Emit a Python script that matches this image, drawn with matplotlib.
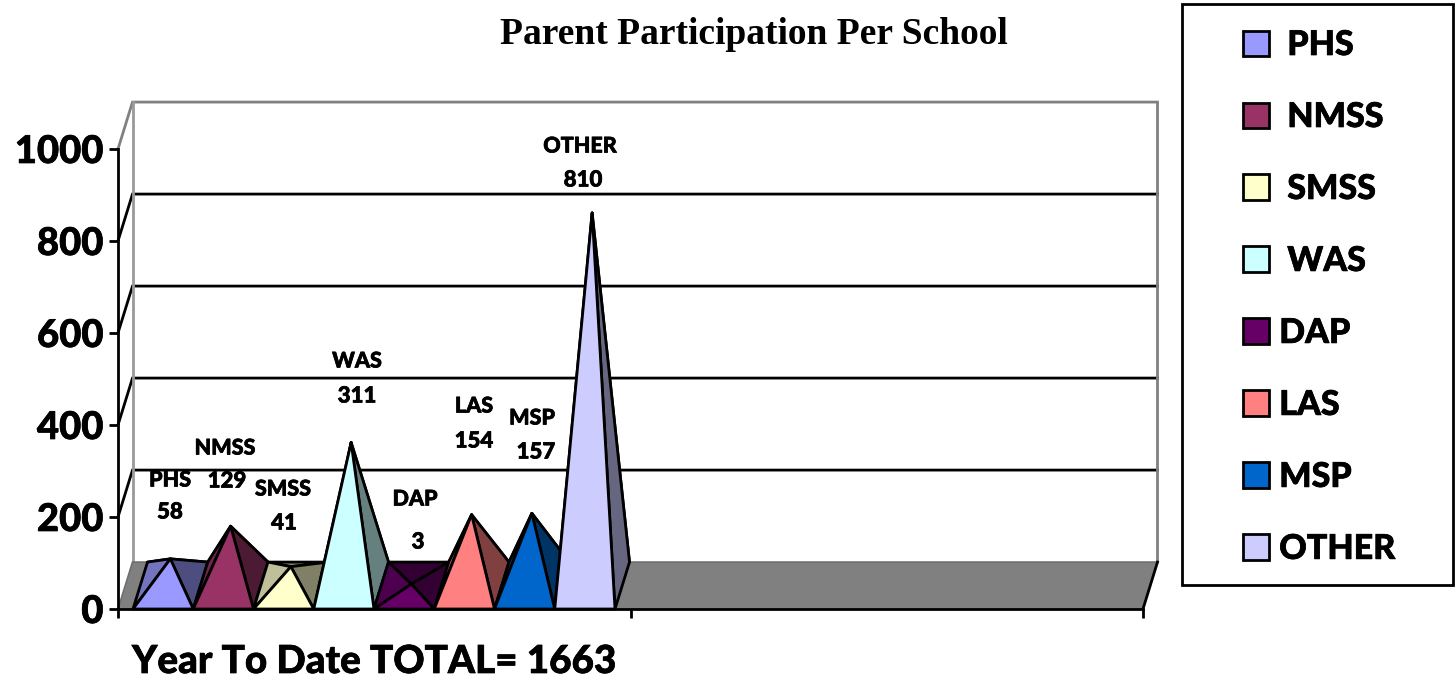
import matplotlib
matplotlib.use("Agg")
import matplotlib.pyplot as plt
import matplotlib.patheffects as pe
from matplotlib.patches import Polygon, Patch, Rectangle

# ---- data ----
schools = ["PHS", "NMSS", "SMSS", "WAS", "DAP", "LAS", "MSP", "OTHER"]
participation = [58, 129, 41, 311, 3, 154, 157, 810]
colors = ["#9999FF", "#993366", "#FFFFCC", "#CCFFFF", "#660066", "#FF8080", "#0066CC", "#CCCCFF"]
legend_labels = [" PHS", " NMSS", " SMSS", " WAS", "DAP", "LAS", "MSP", "OTHER"]
y_ticks = [0, 200, 400, 600, 800, 1000]
total_label = "Year To Date TOTAL= 1663"
title = "Parent Participation Per School"

# label centres in pixels (name x, name y, value x, value y)
label_px = [(170, 480, 170, 512), (225, 448, 227, 481), (283, 489, 284, 523), (357, 361, 357, 396),
            (415, 499, 418, 542), (474, 406, 474, 441), (532, 418, 536, 452), (580, 146, 583, 180)]

W, H = 1455, 679
FONT = "Lato"
WEIGHT = 900
plt.rcParams["font.family"] = [FONT, "DejaVu Sans"]
HEAVY = [pe.withStroke(linewidth=0.5, foreground="black")]

fig = plt.figure(figsize=(W / 100, H / 100), dpi=100)
L, R, T, B = 118, 1143, 149, 609
ax = fig.add_axes([L / W, 1 - B / H, (R - L) / W, (B - T) / H])
ax.set_xlim(0, 2)
ax.set_ylim(0, 1000)

# depth projection, in data units
DX = 14.5 / ((R - L) / 2)
DY = 102.0
SW = 60.25 / ((R - L) / 2)
X0 = 15.0 / ((R - L) / 2)
LW = 2.0
GRAY = "#808080"


def p(x, y, d=0.0):
    return (x + d * DX, y + d * DY)


def shade(hexcol, f):
    r, g, b = matplotlib.colors.to_rgb(hexcol)
    return (r * f, g * f, b * f)


# back wall grid
for v in y_ticks[1:-1]:
    ax.plot(*zip(p(0, v), p(0, v, 1), p(2, v, 1)), color="black", lw=LW, clip_on=False, zorder=1,
            solid_joinstyle="miter")
ax.plot(*zip(p(0, 1000), p(0, 1000, 1), p(2, 1000, 1), p(2, 0, 1)), color=GRAY, lw=LW,
        clip_on=False, zorder=1, solid_joinstyle="miter")
ax.plot(*zip(p(0, 0, 1), p(0, 1000, 1)), color="#999999", lw=LW, clip_on=False, zorder=1)

# floor
ax.add_patch(Polygon([p(0, 0), p(2, 0), p(2, 0, 1), p(0, 0, 1)], closed=True, facecolor=GRAY,
                     edgecolor="none", clip_on=False, zorder=2))
ax.plot(*zip(p(0, 0), p(0, 0, 1), p(2, 0, 1)), color="#6e6e6e", lw=1.2, clip_on=False, zorder=2)
ax.plot(*zip(p(2, 0), p(2, 0, 1)), color="black", lw=LW, clip_on=False, zorder=2)

# pyramids
z = 3
for i, (v, c) in enumerate(zip(participation, colors)):
    x1 = X0 + i * SW
    x2 = x1 + SW
    apex = p((x1 + x2) / 2, v, 0.5)
    fl, fr, bl, br = p(x1, 0), p(x2, 0), p(x1, 0, 1), p(x2, 0, 1)
    faces = [([bl, br, apex], 0.5), ([fl, bl, apex], 0.75), ([fr, br, apex], 0.5), ([fl, fr, apex], 1.0)]
    for pts, f in faces:
        ax.add_patch(Polygon(pts, closed=True, facecolor=shade(c, f), edgecolor="black", linewidth=LW,
                             joinstyle="round", clip_on=False, zorder=z))
        z += 1

# data labels
for name, v, (nx, ny, vx, vy) in zip(schools, participation, label_px):
    fig.text(nx / W, 1 - ny / H, name, ha="center", va="center", fontsize=15.5, fontweight=WEIGHT,
             color="black", path_effects=HEAVY)
    fig.text(vx / W, 1 - vy / H, str(v), ha="center", va="center", fontsize=16, fontweight=WEIGHT,
             color="black", path_effects=HEAVY)

# axes furniture
for s in ["top", "right"]:
    ax.spines[s].set_visible(False)
ax.spines["left"].set_linewidth(LW)
ax.spines["bottom"].set_linewidth(LW)
ax.spines["left"].set_zorder(60)
ax.spines["bottom"].set_zorder(60)
ax.patch.set_alpha(0)
ax.set_yticks(y_ticks)
ax.set_xticks([0, 1, 2])
ax.set_xticklabels([])
ax.tick_params(axis="both", length=6.5, width=LW, color="black")
ax.tick_params(axis="y", pad=4, labelsize=27.5)
for t in ax.get_yticklabels():
    t.set_fontweight(WEIGHT)
    t.set_path_effects(HEAVY)

ax.set_xlabel(total_label, fontsize=27.8, fontweight=WEIGHT, ha="left", path_effects=HEAVY)
ax.xaxis.set_label_coords((132 - L) / (R - L), -(643 - B) / (B - T), transform=ax.transAxes)
ax.xaxis.label.set_va("top")

ax.set_title(title, fontfamily="Liberation Serif", fontweight="bold", fontsize=27, pad=0,
             x=(753.5 - L) / (R - L), y=(B - 34) / (B - T), va="center", ha="center")

# legend
fig.add_artist(Rectangle((1182 / W, 1 - 585 / H), (1453 - 1182) / W, (585 - 4) / H, transform=fig.transFigure,
                         facecolor="white", edgecolor="black", linewidth=LW, zorder=0))
handles = [Patch(facecolor=c, edgecolor="black", linewidth=LW, label=l) for c, l in zip(colors, legend_labels)]
FS = 24.5
size_pt = 26 * 72 / 100
leg = fig.legend(handles=handles, loc="upper left", bbox_to_anchor=(1243 / W, 1 - 29 / H),
                 frameon=False, prop={"weight": WEIGHT, "size": FS},
                 handlelength=size_pt / FS, handleheight=size_pt / FS, handletextpad=0.3,
                 borderpad=0, borderaxespad=0, labelspacing=1.175)
for t in leg.get_texts():
    t.set_path_effects(HEAVY)

fig.savefig("out.png", dpi=100)
